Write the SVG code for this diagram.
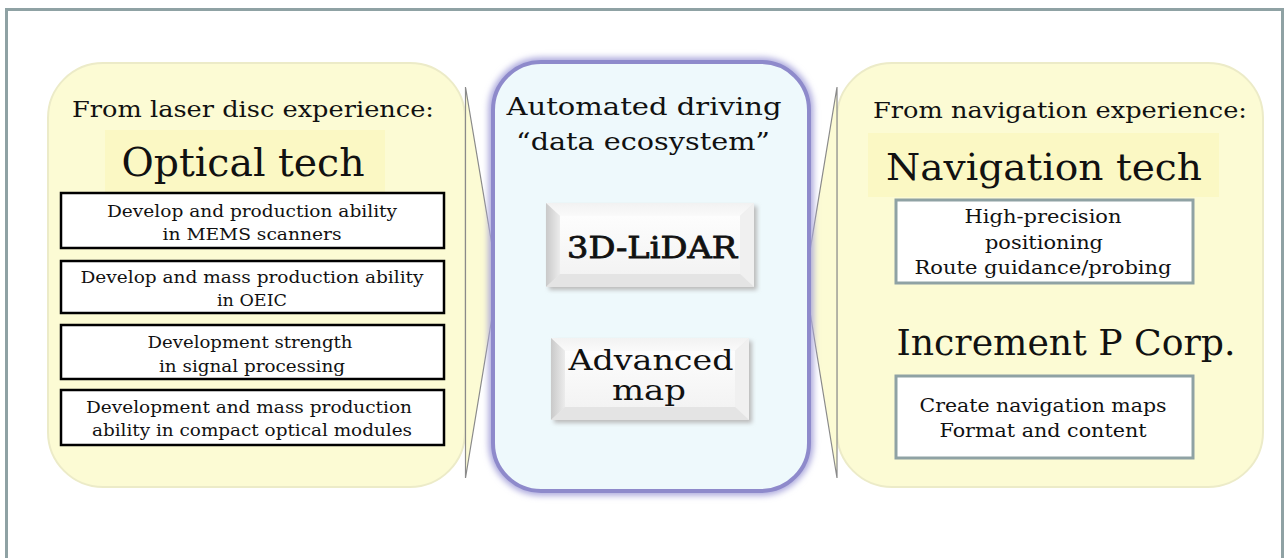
<svg xmlns="http://www.w3.org/2000/svg" width="1285" height="558" viewBox="0 0 1285 558">
<defs>
<style>
.t{font-family:"DejaVu Serif","Liberation Serif",serif;fill:#111;text-anchor:middle}
.panel{fill:#fcfbd4;stroke:#ecebc8;stroke-width:2}
.hl{fill:#fbf8c4}
.lbox{fill:#fff;stroke:#000;stroke-width:2.5}
.rbox{fill:#fff;stroke:#8fa2a4;stroke-width:3}
.chev{fill:#fcfbd4;stroke:#8a8a8a;stroke-width:1.2}
</style>
<filter id="glow" x="-10%" y="-10%" width="120%" height="120%"><feGaussianBlur stdDeviation="3"/></filter>
<filter id="sh" x="-10%" y="-10%" width="130%" height="130%"><feGaussianBlur stdDeviation="2"/></filter>
<linearGradient id="bl" x1="0" y1="0" x2="1" y2="0"><stop offset="0" stop-color="#c9c9c9"/><stop offset="1" stop-color="#ececec"/></linearGradient>
<linearGradient id="bt" x1="0" y1="0" x2="0" y2="1"><stop offset="0" stop-color="#f2f2f2"/><stop offset="1" stop-color="#fafafa"/></linearGradient>
<linearGradient id="bc" x1="0" y1="0" x2="0" y2="1"><stop offset="0" stop-color="#fdfdfd"/><stop offset="1" stop-color="#f3f3f3"/></linearGradient>
</defs>
<rect x="0" y="0" width="1285" height="558" fill="#fff"/>
<rect x="6.5" y="9.5" width="1276" height="570" fill="#fff" stroke="#8fa2a4" stroke-width="3"/>

<g id="left-panel">
<rect class="panel" x="48" y="63" width="417" height="424" rx="55"/>
<text class="t" x="253" y="117" font-size="22" textLength="362" lengthAdjust="spacingAndGlyphs">From laser disc experience:</text>
<rect class="hl" x="105" y="130" width="280" height="62"/>
<text class="t" x="243" y="176" font-size="39" textLength="243" lengthAdjust="spacingAndGlyphs">Optical tech</text>
</g>
<g id="box-mems">
<rect class="lbox" x="61" y="193" width="383" height="55"/>
<text class="t" x="252" y="217" font-size="16" textLength="290" lengthAdjust="spacingAndGlyphs">Develop and production ability</text>
<text class="t" x="252" y="240" font-size="16" textLength="179" lengthAdjust="spacingAndGlyphs">in MEMS scanners</text>
</g>
<g id="box-oeic">
<rect class="lbox" x="61" y="261" width="383" height="52"/>
<text class="t" x="252" y="283" font-size="16" textLength="343" lengthAdjust="spacingAndGlyphs">Develop and mass production ability</text>
<text class="t" x="252" y="306" font-size="16" textLength="70" lengthAdjust="spacingAndGlyphs">in OEIC</text>
</g>
<g id="box-signal">
<rect class="lbox" x="61" y="325" width="383" height="54"/>
<text class="t" x="250" y="348" font-size="16" textLength="205" lengthAdjust="spacingAndGlyphs">Development strength</text>
<text class="t" x="252" y="372" font-size="16" textLength="186" lengthAdjust="spacingAndGlyphs">in signal processing</text>
</g>
<g id="box-optical">
<rect class="lbox" x="61" y="390" width="383" height="55"/>
<text class="t" x="249" y="413" font-size="16" textLength="326" lengthAdjust="spacingAndGlyphs">Development and mass production</text>
<text class="t" x="252" y="436" font-size="16" textLength="320" lengthAdjust="spacingAndGlyphs">ability in compact optical modules</text>
</g>

<g id="right-panel">
<rect class="panel" x="837" y="63" width="426" height="424" rx="55"/>
<text class="t" x="1060" y="118" font-size="22" textLength="374" lengthAdjust="spacingAndGlyphs">From navigation experience:</text>
<rect class="hl" x="868" y="133" width="351" height="64"/>
<text class="t" x="1044" y="180" font-size="38" textLength="316" lengthAdjust="spacingAndGlyphs">Navigation tech</text>
<text class="t" x="1066" y="355" font-size="35" textLength="339" lengthAdjust="spacingAndGlyphs">Increment P Corp.</text>
</g>
<g id="box-positioning">
<rect class="rbox" x="896" y="200" width="297" height="83"/>
<text class="t" x="1043" y="223" font-size="18" textLength="157" lengthAdjust="spacingAndGlyphs">High-precision</text>
<text class="t" x="1044" y="249" font-size="18" textLength="118" lengthAdjust="spacingAndGlyphs">positioning</text>
<text class="t" x="1043" y="274" font-size="18" textLength="257" lengthAdjust="spacingAndGlyphs">Route guidance/probing</text>
</g>
<g id="box-maps">
<rect class="rbox" x="896" y="376" width="297" height="82"/>
<text class="t" x="1043" y="412" font-size="18" textLength="247" lengthAdjust="spacingAndGlyphs">Create navigation maps</text>
<text class="t" x="1043" y="437" font-size="18" textLength="207" lengthAdjust="spacingAndGlyphs">Format and content</text>
</g>

<g id="connectors">
<polygon class="chev" points="465.5,87 498,281 465.5,478"/>
<polygon class="chev" points="837,87 805,281 837,478"/>
</g>

<g id="center-panel">
<rect x="493" y="62" width="316" height="429" rx="48" fill="none" stroke="#a9a6dc" stroke-width="9" filter="url(#glow)"/>
<rect x="493" y="62" width="316" height="429" rx="48" fill="#eef9fc" stroke="#8e8acb" stroke-width="4"/>
<text class="t" x="644" y="115" font-size="25" textLength="275" lengthAdjust="spacingAndGlyphs">Automated driving</text>
<text class="t" x="643" y="150" font-size="25" textLength="254" lengthAdjust="spacingAndGlyphs">“data ecosystem”</text>
</g>
<g id="node-lidar">
<rect x="549" y="206" width="208" height="84" fill="#bbb" filter="url(#sh)"/>
<rect x="546" y="203" width="208" height="84" fill="#ececec"/>
<polygon points="546,203 754,203 740,216 560,216" fill="url(#bt)"/>
<polygon points="546,203 560,216 560,274 546,287" fill="url(#bl)"/>
<polygon points="754,203 754,287 740,274 740,216" fill="#f0f0f0"/>
<polygon points="546,287 560,274 740,274 754,287" fill="#e4e4e4"/>
<rect x="560" y="216" width="180" height="58" fill="url(#bc)"/>
<text class="t" x="652" y="258" font-size="29" stroke="#111" stroke-width="0.8" textLength="170" lengthAdjust="spacingAndGlyphs">3D-LiDAR</text>
</g>
<g id="node-map">
<rect x="554" y="341" width="198" height="82" fill="#bbb" filter="url(#sh)"/>
<rect x="551" y="338" width="198" height="82" fill="#ececec"/>
<polygon points="551,338 749,338 735,351 565,351" fill="url(#bt)"/>
<polygon points="551,338 565,351 565,407 551,420" fill="url(#bl)"/>
<polygon points="749,338 749,420 735,407 735,351" fill="#f0f0f0"/>
<polygon points="551,420 565,407 735,407 749,420" fill="#e4e4e4"/>
<rect x="565" y="351" width="170" height="56" fill="url(#bc)"/>
<text class="t" x="651" y="370" font-size="28" textLength="165" lengthAdjust="spacingAndGlyphs">Advanced</text>
<text class="t" x="649" y="400" font-size="28" textLength="74" lengthAdjust="spacingAndGlyphs">map</text>
</g>
</svg>
